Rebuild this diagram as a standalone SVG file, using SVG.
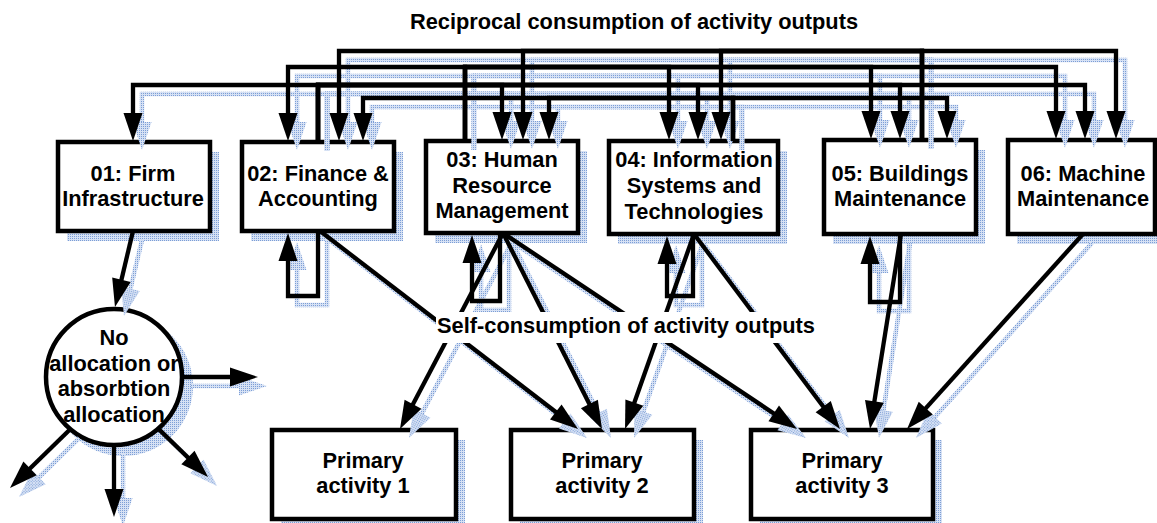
<svg xmlns="http://www.w3.org/2000/svg" xmlns:xlink="http://www.w3.org/1999/xlink" width="1157" height="523" viewBox="0 0 1157 523">
  <style>
    text { font-family: "Liberation Sans", Arial, sans-serif; font-weight: bold; font-size: 21.8px; fill: #000; text-anchor: middle; }
    .box { fill: #fff; stroke: #000; stroke-width: 4.5; }
    .shade-fill { fill: url(#hatch); stroke: none; }
    .ink { stroke: #000; stroke-width: 4.3; marker-end: url(#headK); }
    .shade { stroke: url(#hatch); stroke-width: 4.5; marker-end: url(#headS); }
  </style>
  <defs>
    <!-- fine blue dot screen used for drop shadows -->
    <pattern id="hatch" width="2" height="2" patternUnits="userSpaceOnUse">
      <rect width="2" height="2" fill="#d6e1f4"/>
      <rect width="1" height="1" fill="#7c9ed6"/>
    </pattern>
    <marker id="headK" markerUnits="userSpaceOnUse" viewBox="-14 -9 28 18" refX="0" refY="0" markerWidth="28" markerHeight="18" orient="auto" overflow="visible">
      <path d="M-14,-9.5 L14,0 L-14,9.5 z" fill="#000" stroke="none"/>
    </marker>
    <marker id="headS" markerUnits="userSpaceOnUse" viewBox="-14 -9 28 18" refX="0" refY="0" markerWidth="28" markerHeight="18" orient="auto" overflow="visible">
      <path d="M-14,-9.5 L14,0 L-14,9.5 z" fill="url(#hatch)" stroke="none"/>
    </marker>
    <!-- every wire ends in an arrowhead; endpoints sit mid-head -->
    <g id="wires" fill="none" stroke-linejoin="miter">
      <!-- 05 outputs on the top bus -->
      <path d="M922,140 V51 H339 V127"/>
      <path d="M922,140 V51 H523 V126"/>
      <path d="M922,140 V51 H721 V126"/>
      <path d="M922,140 V51 H1116 V125"/>
      <!-- 03 outputs -->
      <path d="M465,141 V67 H288 V127"/>
      <path d="M465,141 V67 H669 V126"/>
      <path d="M465,141 V67 H871 V125"/>
      <path d="M465,141 V67 H1056 V125"/>
      <!-- 02 outputs -->
      <path d="M318,142 V85 H133 V127"/>
      <path d="M318,142 V85 H502 V126"/>
      <path d="M318,142 V85 H698 V126"/>
      <path d="M318,142 V85 H900 V125"/>
      <path d="M318,142 V85 H1085 V125"/>
      <!-- 04 outputs -->
      <path d="M733,141 V98 H363 V127"/>
      <path d="M733,141 V98 H549 V126"/>
      <path d="M733,141 V98 H947 V125"/>
      <!-- self-consumption loops -->
      <path d="M318,231 V296 H288 V247"/>
      <path d="M500,233 V301 H472 V249"/>
      <path d="M693,234 V296 H667 V250"/>
      <path d="M900,234 V302 H870 V250"/>
      <!-- 01 to the unallocated pool -->
      <path d="M133,231 L118.2,293.4"/>
      <path d="M182,377 H244"/>
      <path d="M114,445 V503"/>
      <path d="M70.2,429.2 L20,478.2"/>
      <path d="M158.2,428.6 L198,467.2"/>
      <!-- support activities to primary activities -->
      <path d="M320,231 L566.9,420.5"/>
      <path d="M503,233 L406.5,416.6"/>
      <path d="M503,233 L595.7,416.5"/>
      <path d="M503,233 L785.4,421.2"/>
      <path d="M694,234 L629.7,415.8"/>
      <path d="M694,234 L831.6,417.8"/>
      <path d="M901,234 L872.2,415.2"/>
      <path d="M1083,234 L916.4,418.6"/>
    </g>
  </defs>

  <rect width="1157" height="523" fill="#fff"/>

  <text x="634" y="29">Reciprocal consumption of activity outputs</text>

  <g id="n01">
    <rect class="shade-fill" x="67" y="152" width="152" height="89"/>
    <rect class="box" x="58" y="142" width="152" height="89"/>
    <text x="133" y="181">01: Firm</text>
    <text x="133" y="206">Infrastructure</text>
  </g>
  <g id="n02">
    <rect class="shade-fill" x="251" y="152" width="152" height="89"/>
    <rect class="box" x="242" y="142" width="152" height="89"/>
    <text x="318" y="181">02: Finance &amp;</text>
    <text x="318" y="206">Accounting</text>
  </g>
  <g id="n03">
    <rect class="shade-fill" x="435" y="151" width="152" height="92"/>
    <rect class="box" x="426" y="141" width="152" height="92"/>
    <text x="502" y="167">03: Human</text>
    <text x="502" y="193">Resource</text>
    <text x="502" y="218">Management</text>
  </g>
  <g id="n04">
    <rect class="shade-fill" x="618" y="151" width="169" height="93"/>
    <rect class="box" x="609" y="141" width="169" height="93"/>
    <text x="694" y="167">04: Information</text>
    <text x="694" y="193">Systems and</text>
    <text x="694" y="219">Technologies</text>
  </g>
  <g id="n05">
    <rect class="shade-fill" x="833" y="150" width="152" height="94"/>
    <rect class="box" x="824" y="140" width="152" height="94"/>
    <text x="900" y="181">05: Buildings</text>
    <text x="900" y="206">Maintenance</text>
  </g>
  <g id="n06">
    <rect class="shade-fill" x="1017" y="150" width="147" height="94"/>
    <rect class="box" x="1008" y="140" width="147" height="94"/>
    <text x="1083" y="181">06: Machine</text>
    <text x="1083" y="206">Maintenance</text>
  </g>
  <g id="pool">
    <circle class="shade-fill" cx="123" cy="386" r="70"/>
    <circle class="box" cx="114" cy="377" r="68"/>
    <text x="114" y="345">No</text>
    <text x="114" y="371">allocation or</text>
    <text x="114" y="396">absorbtion</text>
    <text x="114" y="422">allocation</text>
  </g>
  <g id="pa1">
    <rect class="shade-fill" x="281" y="440" width="184" height="89"/>
    <rect class="box" x="272" y="430" width="184" height="89"/>
    <text x="363" y="468">Primary</text>
    <text x="363" y="493">activity 1</text>
  </g>
  <g id="pa2">
    <rect class="shade-fill" x="520" y="440" width="183" height="89"/>
    <rect class="box" x="511" y="430" width="183" height="89"/>
    <text x="602" y="468">Primary</text>
    <text x="602" y="493">activity 2</text>
  </g>
  <g id="pa3">
    <rect class="shade-fill" x="760" y="440" width="182" height="89"/>
    <rect class="box" x="751" y="430" width="182" height="89"/>
    <text x="842" y="468">Primary</text>
    <text x="842" y="493">activity 3</text>
  </g>

  <g id="connectors">
    <use xlink:href="#wires" href="#wires" class="shade" transform="translate(9,9)"/>
    <use xlink:href="#wires" href="#wires" class="ink"/>
  </g>

  <g id="self-label">
    <rect x="436" y="312" width="381" height="31" fill="#fff"/>
    <text x="626" y="333">Self-consumption of activity outputs</text>
  </g>
</svg>
